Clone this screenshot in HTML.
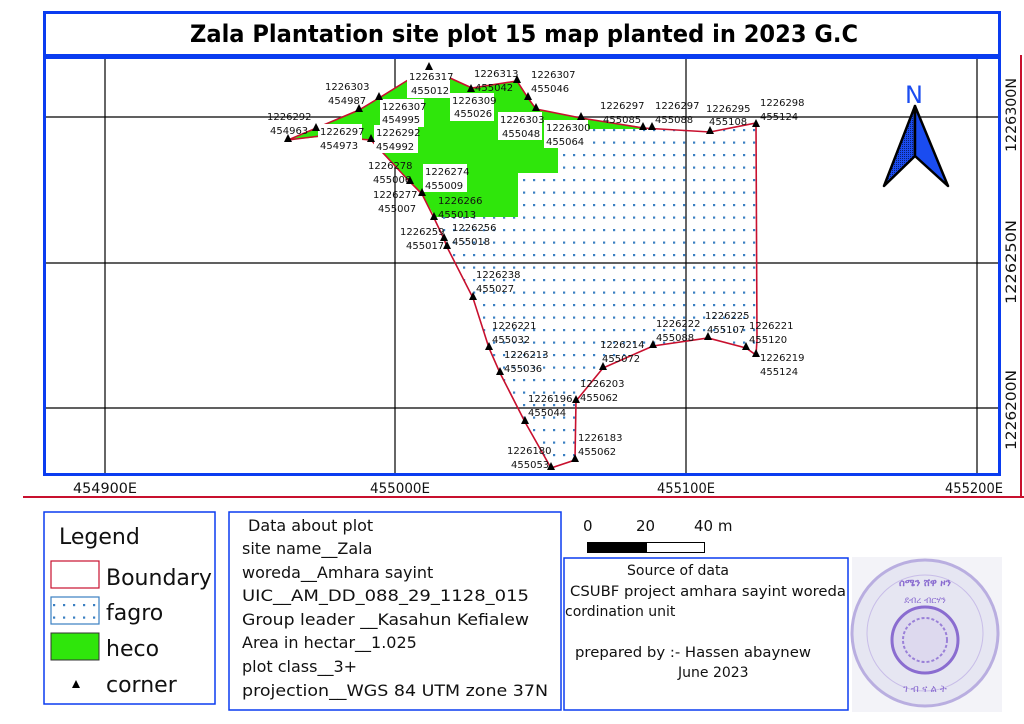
<!DOCTYPE html>
<html><head><meta charset="utf-8"><style>
html,body{margin:0;padding:0;background:#fff;}
svg{display:block;font-family:"DejaVu Sans","Liberation Sans",sans-serif;}
</style></head><body>
<svg width="1024" height="724" viewBox="0 0 1024 724" xmlns="http://www.w3.org/2000/svg">
<defs>
<pattern id="dots" x="0" y="0" width="10" height="12.5" patternUnits="userSpaceOnUse">
<rect x="3" y="4" width="2.2" height="2.2" fill="#3a7fc2"/>
</pattern>
<pattern id="ndots" x="0" y="0" width="2" height="2" patternUnits="userSpaceOnUse">
<rect width="2" height="2" fill="#1a4cf0"/><rect width="1" height="1" fill="#0b1f70"/>
</pattern>
</defs>
<rect width="1024" height="724" fill="#fff"/>
<!-- red outer lines -->
<line x1="23" y1="497" x2="1024" y2="497" stroke="#c8102e" stroke-width="2"/>
<line x1="1021" y1="55" x2="1021" y2="497" stroke="#c8102e" stroke-width="2"/>
<!-- grid -->
<g stroke="#000" stroke-width="1.2">
<line x1="105" y1="58" x2="105" y2="475"/>
<line x1="395" y1="58" x2="395" y2="475"/>
<line x1="686" y1="58" x2="686" y2="475"/>
<line x1="977" y1="58" x2="977" y2="475"/>
<line x1="45" y1="117" x2="1000" y2="117"/>
<line x1="45" y1="263" x2="1000" y2="263"/>
<line x1="45" y1="408" x2="1000" y2="408"/>
</g>
<!-- fagro polygon -->
<polygon points="288,140 359,110 379,98 408,80 429,68 450,78 472,88 517,81 528,98 536,109 581,118 643,128 710,132 756,123 757,340 756,355 746,348 708,338 653,346 603,368 576,401 575,460 551,468 525,422 500,373 489,348 473,298 447,247 444,239 434,218 422,194 410,182 371,140 320,136" fill="url(#dots)"/>
<!-- heco -->
<polygon points="290,140 359,110 379,98 408,80 429,68 450,78 472,88 517,81 528,98 536,109 581,118 642,127 642,129 558,129 558,173 518,173 518,217 435,217 422,194 410,182 371,140 320,137" fill="#2fe60b"/>
<!-- boundary -->
<polygon points="288,140 359,110 379,98 408,80 429,68 450,78 472,88 517,81 528,98 536,109 581,118 643,128 710,132 756,123 757,340 756,355 746,348 708,338 653,346 603,368 576,401 575,460 551,468 525,422 500,373 489,348 473,298 447,247 444,239 434,218 422,194 410,182 371,140 320,136" fill="none" stroke="#c8102e" stroke-width="1.6"/>
<!-- labels -->
<g font-size="10" fill="#111">
<g fill="#fff">
<rect x="407" y="68" width="43" height="30"/><rect x="450" y="93" width="44" height="28"/>
<rect x="380" y="99" width="44" height="28"/><rect x="318" y="124" width="44" height="28"/>
<rect x="374" y="125" width="44" height="28"/><rect x="498" y="112" width="44" height="28"/>
<rect x="544" y="120" width="44" height="28"/><rect x="423" y="164" width="44" height="28"/>
</g>
<text x="267" y="120">1226292</text><text x="270" y="134">454963</text>
<text x="325" y="90">1226303</text><text x="328" y="104">454987</text>
<text x="409" y="80">1226317</text><text x="411" y="94">455012</text>
<text x="474" y="77">1226313</text><text x="475" y="91">455042</text>
<text x="531" y="78">1226307</text><text x="531" y="92">455046</text>
<text x="452" y="104">1226309</text><text x="454" y="117">455026</text>
<text x="382" y="110">1226307</text><text x="382" y="123">454995</text>
<text x="320" y="135">1226297</text><text x="320" y="149">454973</text>
<text x="376" y="136">1226292</text><text x="376" y="150">454992</text>
<text x="500" y="123">1226303</text><text x="502" y="137">455048</text>
<text x="546" y="131">1226300</text><text x="546" y="145">455064</text>
<text x="600" y="109">1226297</text><text x="603" y="123">455085</text>
<text x="655" y="109">1226297</text><text x="655" y="123">455088</text>
<text x="706" y="112">1226295</text><text x="709" y="125">455108</text>
<text x="760" y="106">1226298</text><text x="760" y="120">455124</text>
<text x="368" y="169">1226278</text><text x="373" y="183">455006</text>
<text x="425" y="175">1226274</text><text x="425" y="189">455009</text>
<text x="373" y="198">1226277</text><text x="378" y="212">455007</text>
<text x="438" y="204">1226266</text><text x="438" y="218">455013</text>
<text x="400" y="235">1226259</text><text x="406" y="249">455017</text>
<text x="452" y="231">1226256</text><text x="452" y="245">455018</text>
<text x="476" y="278">1226238</text><text x="476" y="292">455027</text>
<text x="492" y="329">1226221</text><text x="492" y="343">455032</text>
<text x="504" y="358">1226213</text><text x="504" y="372">455036</text>
<text x="528" y="402">1226196</text><text x="528" y="416">455044</text>
<text x="580" y="387">1226203</text><text x="580" y="401">455062</text>
<text x="600" y="348">1226214</text><text x="602" y="362">455072</text>
<text x="656" y="327">1226222</text><text x="656" y="341">455088</text>
<text x="705" y="319">1226225</text><text x="707" y="333">455107</text>
<text x="749" y="329">1226221</text><text x="749" y="343">455120</text>
<text x="760" y="361">1226219</text><text x="760" y="375">455124</text>
<text x="507" y="454">1226180</text><text x="511" y="468">455053</text>
<text x="578" y="441">1226183</text><text x="578" y="455">455062</text>
</g>
<!-- corners -->
<g fill="#000">
<path id="t" d="M0,-6 L-4,2 L4,2 Z" transform="translate(288,140)"/>
<path d="M0,-6 L-4,2 L4,2 Z" transform="translate(316,129)"/>
<path d="M0,-6 L-4,2 L4,2 Z" transform="translate(359,110)"/>
<path d="M0,-6 L-4,2 L4,2 Z" transform="translate(379,98)"/>
<path d="M0,-6 L-4,2 L4,2 Z" transform="translate(429,68)"/>
<path d="M0,-6 L-4,2 L4,2 Z" transform="translate(471,90)"/>
<path d="M0,-6 L-4,2 L4,2 Z" transform="translate(517,81)"/>
<path d="M0,-6 L-4,2 L4,2 Z" transform="translate(528,98)"/>
<path d="M0,-6 L-4,2 L4,2 Z" transform="translate(536,109)"/>
<path d="M0,-6 L-4,2 L4,2 Z" transform="translate(581,118)"/>
<path d="M0,-6 L-4,2 L4,2 Z" transform="translate(643,128)"/>
<path d="M0,-6 L-4,2 L4,2 Z" transform="translate(652,128)"/>
<path d="M0,-6 L-4,2 L4,2 Z" transform="translate(710,132)"/>
<path d="M0,-6 L-4,2 L4,2 Z" transform="translate(756,125)"/>
<path d="M0,-6 L-4,2 L4,2 Z" transform="translate(371,140)"/>
<path d="M0,-6 L-4,2 L4,2 Z" transform="translate(410,182)"/>
<path d="M0,-6 L-4,2 L4,2 Z" transform="translate(422,194)"/>
<path d="M0,-6 L-4,2 L4,2 Z" transform="translate(434,218)"/>
<path d="M0,-6 L-4,2 L4,2 Z" transform="translate(444,239)"/>
<path d="M0,-6 L-4,2 L4,2 Z" transform="translate(447,247)"/>
<path d="M0,-6 L-4,2 L4,2 Z" transform="translate(473,298)"/>
<path d="M0,-6 L-4,2 L4,2 Z" transform="translate(489,348)"/>
<path d="M0,-6 L-4,2 L4,2 Z" transform="translate(500,373)"/>
<path d="M0,-6 L-4,2 L4,2 Z" transform="translate(525,422)"/>
<path d="M0,-6 L-4,2 L4,2 Z" transform="translate(551,468)"/>
<path d="M0,-6 L-4,2 L4,2 Z" transform="translate(575,460)"/>
<path d="M0,-6 L-4,2 L4,2 Z" transform="translate(576,401)"/>
<path d="M0,-6 L-4,2 L4,2 Z" transform="translate(603,368)"/>
<path d="M0,-6 L-4,2 L4,2 Z" transform="translate(653,346)"/>
<path d="M0,-6 L-4,2 L4,2 Z" transform="translate(708,338)"/>
<path d="M0,-6 L-4,2 L4,2 Z" transform="translate(746,348)"/>
<path d="M0,-6 L-4,2 L4,2 Z" transform="translate(756,355)"/>
</g>
<!-- north arrow -->
<text x="914" y="103" font-size="24" fill="#1a4cf0" text-anchor="middle">N</text>
<path d="M915,106 L884,186 L915,156 Z" fill="url(#ndots)" stroke="#000" stroke-width="2.5" stroke-linejoin="round"/>
<path d="M915,106 L948,186 L915,156 Z" fill="#1a4cf0" stroke="#000" stroke-width="2.5" stroke-linejoin="round"/>
<!-- frames -->
<rect x="44.5" y="12.5" width="955" height="462" fill="none" stroke="#0a3cf0" stroke-width="3"/>
<rect x="44" y="54" width="956" height="5" fill="#0a3cf0"/>
<text x="524" y="42" font-size="24" font-weight="bold" text-anchor="middle" textLength="668" lengthAdjust="spacingAndGlyphs">Zala Plantation site plot 15 map planted in 2023 G.C</text>
<!-- coordinate labels -->
<g font-size="14" fill="#111" text-anchor="middle">
<text x="105" y="493" textLength="64" lengthAdjust="spacingAndGlyphs">454900E</text>
<text x="400" y="493" textLength="60" lengthAdjust="spacingAndGlyphs">455000E</text>
<text x="686" y="493" textLength="58" lengthAdjust="spacingAndGlyphs">455100E</text>
<text x="974" y="493" textLength="58" lengthAdjust="spacingAndGlyphs">455200E</text>
<text transform="translate(1016,115) rotate(-90)" textLength="74" lengthAdjust="spacingAndGlyphs">1226300N</text>
<text transform="translate(1016,262) rotate(-90)" textLength="84" lengthAdjust="spacingAndGlyphs">1226250N</text>
<text transform="translate(1016,410) rotate(-90)" textLength="80" lengthAdjust="spacingAndGlyphs">1226200N</text>
</g>
<!-- legend -->
<rect x="44" y="512" width="171" height="192" fill="none" stroke="#0a3cf0" stroke-width="1.5"/>
<g font-size="22" fill="#111">
<text x="59" y="544">Legend</text>
<text x="106" y="585">Boundary</text>
<text x="106" y="620">fagro</text>
<text x="106" y="656">heco</text>
<text x="106" y="692">corner</text>
</g>
<rect x="51" y="561" width="48" height="27" fill="#fff" stroke="#c8102e" stroke-width="1.2"/>
<rect x="51" y="597" width="48" height="27" fill="url(#dots)" stroke="#3a7fc2" stroke-width="1.2"/>
<rect x="51" y="633" width="48" height="27" fill="#2fe60b" stroke="#333" stroke-width="1"/>
<path d="M76,680 L72,688 L80,688 Z" fill="#000"/>
<!-- data box -->
<rect x="229" y="512" width="332" height="198" fill="none" stroke="#0a3cf0" stroke-width="1.5"/>
<g font-size="16" fill="#111">
<text x="248" y="531">Data about plot</text>
<text x="242" y="554">site name__Zala</text>
<text x="242" y="578">woreda__Amhara sayint</text>
<text x="242" y="601" textLength="287" lengthAdjust="spacingAndGlyphs">UIC__AM_DD_088_29_1128_015</text>
<text x="242" y="625" textLength="287" lengthAdjust="spacingAndGlyphs">Group leader __Kasahun Kefialew</text>
<text x="242" y="648">Area in hectar__1.025</text>
<text x="242" y="672">plot class__3+</text>
<text x="242" y="696" textLength="306" lengthAdjust="spacingAndGlyphs">projection__WGS 84 UTM zone 37N</text>
</g>
<!-- scale bar -->
<g font-size="15" fill="#111">
<text x="583" y="531">0</text><text x="636" y="531">20</text><text x="694" y="531">40 m</text>
</g>
<rect x="587.5" y="542.5" width="117" height="10" fill="#fff" stroke="#000"/>
<rect x="587" y="542" width="60" height="11" fill="#000"/>
<!-- source box -->
<rect x="564" y="558" width="284" height="152" fill="none" stroke="#0a3cf0" stroke-width="1.5"/>
<g font-size="14" fill="#111">
<text x="627" y="575">Source of data</text>
<text x="570" y="596" textLength="276" lengthAdjust="spacingAndGlyphs">CSUBF project amhara sayint woreda</text>
<text x="565" y="616">cordination unit</text>
<text x="575" y="657" textLength="236" lengthAdjust="spacingAndGlyphs">prepared by :- Hassen abaynew</text>
<text x="678" y="677">June 2023</text>
</g>
<!-- stamp -->
<rect x="852" y="557" width="150" height="155" fill="#f3f3f8"/>
<circle cx="925" cy="633" r="73" fill="#e6e6f2" stroke="#b9aee0" stroke-width="3"/>
<circle cx="925" cy="633" r="58" fill="none" stroke="#c8bde8" stroke-width="1"/>
<circle cx="925" cy="640" r="33" fill="#ddd9ee" stroke="#8a6cd0" stroke-width="3"/>
<circle cx="925" cy="640" r="22" fill="none" stroke="#9a80d8" stroke-width="2" stroke-dasharray="3 2"/>
<text x="925" y="586" font-size="10" fill="#8a6cd0" text-anchor="middle" font-weight="bold">ሰሜን ሸዋ ዞን</text>
<text x="925" y="603" font-size="9" fill="#8a6cd0" text-anchor="middle">ደብረ ብርሃን</text>
<text x="925" y="692" font-size="10" fill="#8a6cd0" text-anchor="middle">ገ ብ ና ል ት</text>
</svg>
</body></html>
